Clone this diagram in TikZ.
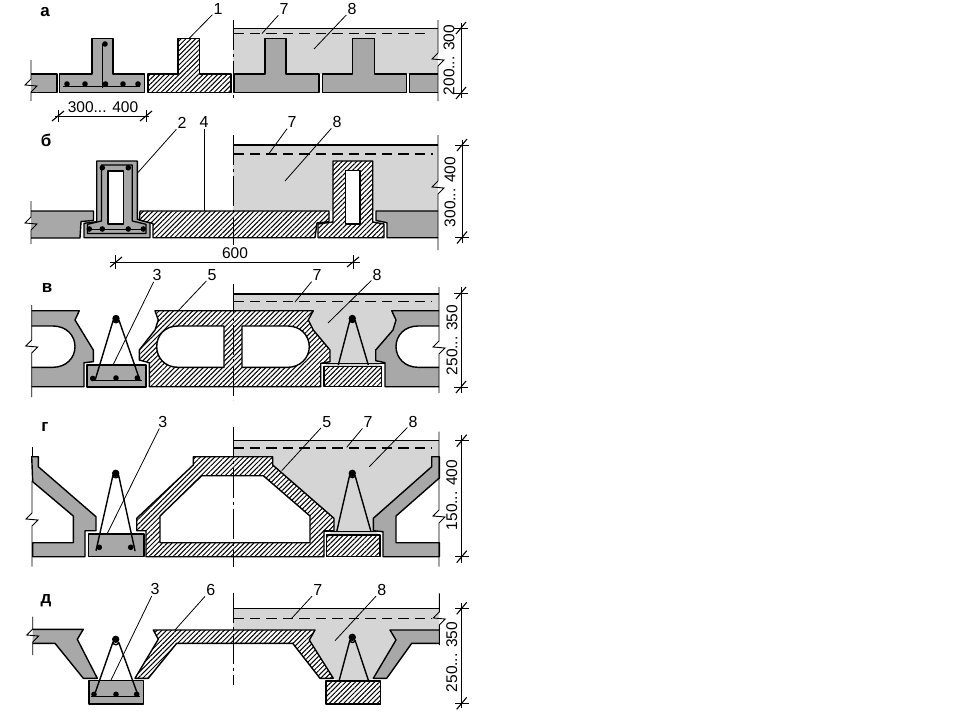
\documentclass[tikz,border=0pt]{standalone}
\usepackage{fontspec}
\setmainfont{Liberation Sans}
\usetikzlibrary{patterns.meta}
\definecolor{dk}{HTML}{A8A8A8}
\definecolor{lt}{HTML}{D5D5D5}
\tikzset{
 lab/.style={inner sep=1pt,font=\fontsize{16pt}{16pt}\selectfont},
 panelname/.style={inner sep=1pt,font=\fontsize{17pt}{17pt}\selectfont\bfseries},
 dimtext/.style={inner sep=0pt,font=\fontsize{15.5pt}{15pt}\selectfont},
 leader/.style={line width=.8pt},
 ol/.style={draw=black,line width=1.4pt,line join=round},
 dark/.style={ol,fill=dk},
 light/.style={fill=lt},
 topline/.style={line width=1.4pt},
 hatch/.style={ol,preaction={fill=white},pattern={Lines[angle=45,distance=3.4pt,line width=1pt]}},
 void/.style={ol,fill=white},
 dashline/.style={line width=1.3pt,dash pattern=on 10.5pt off 6pt},
 axisline/.style={line width=.9pt,dash pattern=on 30pt off 4pt on 3pt off 4pt},
 edge/.style={line width=.9pt},
 dimline/.style={line width=.8pt},
 truss/.style={line width=1.4pt,line join=round},
 bar/.style={fill=black,draw=none},
}
\newcommand{\rbar}[2]{\fill[bar] (#1,#2) circle[radius=2.8];}
\newcommand{\tbar}[2]{\fill[bar] (#1,#2) circle[radius=3.7];}
% vertical edge with a break mark
\newcommand{\vbrk}[4]{\draw[edge] (#1,#2)--(#1,#3-5)--(#1-6,#3+1)--(#1+6,#3+2)--(#1,#3+8)--(#1,#4);}
% vertical dimension
\newcommand{\vdimen}[5]{\draw[dimline] (#1,#2)--(#1,#5);
 \draw[dimline] (#1-7,#3)--(#1+7,#3); \draw[line width=1.1pt] (#1-5,#3+6)--(#1+5,#3-6);
 \draw[dimline] (#1-7,#4)--(#1+7,#4); \draw[line width=1.1pt] (#1-5,#4+6)--(#1+5,#4-6);}
\begin{document}
\begin{tikzpicture}[x=1pt,y=-1pt]
\useasboundingbox (0,0) rectangle (960,720);
\fill[white] (0,0) rectangle (960,720);

%% ---------- а ----------
\node[panelname] (na) at (45,12) {а};
\fill[light] (233,28.5) rectangle (438,74);
\draw[topline] (233,28.5)--(438,28.5);
\draw[dark] (31,74)--(57,74)--(57,92.5)--(31,92.5);
\draw[dark] (59.5,74)--(92,74)--(92,38.5)--(113,38.5)--(113,74)--(144.5,74)--(144.5,92.5)--(59.5,92.5)--cycle;
\draw[hatch] (148,74)--(178,74)--(178,38.5)--(199.5,38.5)--(199.5,74)--(231,74)--(231,92.5)--(148,92.5)--cycle;
\draw[dark] (234,74)--(265,74)--(265,38.5)--(286,38.5)--(286,74)--(319,74)--(319,92.5)--(234,92.5)--cycle;
\draw[dark] (322.5,74)--(352.5,74)--(352.5,38.5)--(374.5,38.5)--(374.5,74)--(406.5,74)--(406.5,92.5)--(322.5,92.5)--cycle;
\draw[dark] (438,74)--(409.5,74)--(409.5,92.5)--(438,92.5);
\draw[line width=.8pt] (63,86)--(140,86) (102,44)--(102,88);
\rbar{67}{84}\rbar{85}{84}\rbar{105.5}{84}\rbar{123}{84}\rbar{138}{84}\rbar{105}{44}
\draw[dashline] (233,33.5)--(430,33.5);
\draw[axisline] (233,20)--(233,100);
\vbrk{31}{60}{84}{101}
\vbrk{438}{20}{58}{101}
\vdimen{461}{23}{28}{93}{98}
\node[dimtext,rotate=90] (da) at (449,60) {200... 300};
\draw[dimline] (55,116)--(149,116);
\draw[dimline] (58,110)--(58,122); \draw[line width=1.1pt] (52,121)--(64,111);
\draw[dimline] (146,110)--(146,122); \draw[line width=1.1pt] (140,121)--(152,111);
\node[dimtext] (db) at (103,107) {300... 400};
\node[lab] (a1) at (218,9) {1}; \coordinate (a1e) at (189,38.5);
\node[lab] (a7) at (284,9) {7}; \coordinate (a7e) at (262,33.5);
\node[lab] (a8) at (352,9) {8}; \coordinate (a8e) at (314,49);
\draw[leader] (a1)--(a1e); \draw[leader] (a7)--(a7e); \draw[leader] (a8)--(a8e);

%% ---------- б ----------
\node[panelname] (nb) at (46,140) {б};
\fill[light] (233,145) rectangle (438,211);
\draw[topline] (233,145)--(438,145);
\draw[dark] (31,211)--(93.5,211)--(93.5,220.5)--(81,221.5)--(80,238)--(31,238);
\draw[dark] (96.7,161)--(137.3,161)--(137.3,219.3)--(150,222.7)--(150,237.7)--(84,237.7)--(84,223.3)--(96.7,221.7)--cycle;
\draw[line width=1.3pt,line join=round] (101.5,165)--(132.3,165)--(132.3,221)--(146,224.3)--(146,233.5)--(87.5,233.5)--(87.5,224.3)--(101.5,221)--cycle;
\draw[line width=.9pt] (87.5,229.5)--(146,229.5);
\draw[void] (108,171) rectangle (123.5,224);
\rbar{102.3}{167.7}\rbar{128.3}{167.7}\rbar{89.3}{229}\rbar{102.3}{229}\rbar{128.3}{229}\rbar{143.3}{229}
\draw[hatch] (140,211)--(329,211)--(329,221.7)--(317,223)--(315,237.7)--(153,237.7)--(153,223.5)--(139.5,220)--cycle;
\draw[hatch] (333,161)--(372.7,161)--(372.7,222)--(384,224)--(384,237.7)--(318,237.7)--(318,224)--(333,222)--cycle;
\draw[void] (345.5,170.5) rectangle (360,224);
\draw[dark] (438,211)--(376,211)--(376,220.5)--(387,222.7)--(387,237.7)--(438,237.7);
\draw[dashline] (233,154)--(433,154);
\draw[axisline] (233,135)--(233,245);
\vbrk{31}{201}{222}{244}
\vbrk{438}{135}{186}{250}
\vdimen{462}{140}{145}{237.5}{243}
\node[dimtext,rotate=90] (dc) at (450,192) {300... 400};
\draw[dimline] (110,262)--(360,262);
\draw[dimline] (115.7,255)--(115.7,269); \draw[line width=1.1pt] (110,267)--(122,257);
\draw[dimline] (353,255)--(353,269); \draw[line width=1.1pt] (347,267)--(359,257);
\node[dimtext] (dd) at (235,253) {600};
\node[lab] (b2) at (182,123) {2}; \coordinate (b2e) at (137.5,173);
\node[lab] (b4) at (204,122) {4}; \coordinate (b4e) at (204,211);
\node[lab] (b7) at (292,122) {7}; \coordinate (b7e) at (269,153.5);
\node[lab] (b8) at (337,122) {8}; \coordinate (b8e) at (285,181);
\draw[leader] (b2)--(b2e); \draw[leader] (b4)--(b4e); \draw[leader] (b7)--(b7e); \draw[leader] (b8)--(b8e);

%% ---------- в ----------
\node[panelname] (nv) at (47,288) {в};
\fill[light] (233,294)--(439,294)--(439,310.7)--(391.7,310.7)--(396,320)--(393,330)--(375.7,350)--(375.7,360.7)--(381,366)--(324,366)--(330,361.7)--(330,350)--(313.3,330)--(308.3,320)--(313.3,310.7)--(233,310.7)--cycle;
\draw[topline] (233,294)--(439,294);
\draw[dark] (31.7,310.7)--(79.3,310.7)--(75,320)--(93.3,350)--(93.3,361.7)--(84,362.7)--(84,386.7)--(31.7,386.7);
\fill[white] (31.7,326)--(53,326) .. controls (66,326) and (75,335) .. (75,346.7) .. controls (75,358) and (66,367.3) .. (53,367.3)--(31.7,367.3)--cycle;
\draw[ol] (31.7,326)--(53,326) .. controls (66,326) and (75,335) .. (75,346.7) .. controls (75,358) and (66,367.3) .. (53,367.3)--(31.7,367.3);
\draw[dark] (87,365) rectangle (146,387);
\draw[truss] (95,380.5)--(113.3,320) arc[start angle=180,end angle=0,radius=2.8] (118.9,320)--(140,380.5);
\draw[truss] (92,380.5)--(142,380.5);
\rbar{92.7}{378.5}\rbar{116}{378}\rbar{137.3}{378}\tbar{116}{318.5}
\draw[hatch] (155,310.7)--(313.3,310.7)--(308.3,320)--(313.3,330)--(330,350)--(330,361.7)--(320.7,363.3)--(320.7,386.7)--(149.3,386.7)--(149.3,362.7)--(139.3,360)--(139.3,350)--(155,330)--(158.3,320)--cycle;
\draw[void] (224,326)--(178,326) .. controls (165,326) and (156.7,335) .. (156.7,346.7) .. controls (156.7,358) and (165,367.3) .. (178,367.3)--(224,367.3)--cycle;
\draw[void] (242,326)--(288,326) .. controls (300,326) and (309.3,335) .. (309.3,346.7) .. controls (309.3,358) and (300,367.3) .. (288,367.3)--(242,367.3)--cycle;
\draw[hatch,line width=1.1pt] (324,366.5) rectangle (381.7,386.7);
\draw[line width=.9pt] (321,363)--(385,363);
\draw[dark] (439,310.7)--(391.7,310.7)--(396,320)--(393,330)--(375.7,350)--(375.7,360.7)--(385,362.7)--(385,386.7)--(439,386.7);
\fill[white] (439,326)--(418,326) .. controls (405,326) and (396,335) .. (396,346.7) .. controls (396,358) and (405,367.3) .. (418,367.3)--(439,367.3)--cycle;
\draw[ol] (439,326)--(418,326) .. controls (405,326) and (396,335) .. (396,346.7) .. controls (396,358) and (405,367.3) .. (418,367.3)--(439,367.3);
\draw[truss] (338.3,365)--(350,320) arc[start angle=180,end angle=0,radius=2.5] (355,320)--(368.3,365);
\tbar{352.3}{318.5}
\draw[dashline] (233,301.7)--(432,301.7);
\draw[axisline] (233,284)--(233,400);
\vbrk{31.7}{305}{345}{397}
\vbrk{439}{287}{346}{393}
\vdimen{461}{287}{293}{387}{393}
\node[dimtext,rotate=90] (de) at (452,340) {250... 350};
\node[lab] (c3) at (157,275) {3}; \coordinate (c3e) at (113,365);
\node[lab] (c5) at (212,275) {5}; \coordinate (c5e) at (178,311);
\node[lab] (c7) at (317,275) {7}; \coordinate (c7e) at (295,302);
\node[lab] (c8) at (377,275) {8}; \coordinate (c8e) at (328,323);
\draw[leader] (c3)--(c3e); \draw[leader] (c5)--(c5e); \draw[leader] (c7)--(c7e); \draw[leader] (c8)--(c8e);

%% ---------- г ----------
\node[panelname] (ng) at (45,427) {г};
\fill[light] (233,440.7)--(439,440.7)--(439,456.7)--(431.7,456.7)--(431.7,466.7)--(373.3,518.3)--(373.3,530.7)--(380,535)--(326.7,535)--(334,530.7)--(334,518.3)--(272.7,465)--(272.7,456.7)--(233,456.7)--cycle;
\draw[topline] (233,440.7)--(439,440.7);
\draw[dark] (31.7,456.7)--(38.3,456.7)--(38.3,466.7)--(96,516.7)--(96,530.7)--(85,530.7)--(85,556.7)--(32.7,556.7)--(32.7,542.7)--(73.3,542.7)--(73.3,516)--(32.7,481.7)--cycle;
\draw[dark] (88.3,534) rectangle (144,556.7);
\draw[truss] (96,550.7)--(113,475) arc[start angle=180,end angle=0,radius=2.8] (118.6,475)--(135,550.7)--cycle;
\rbar{99.3}{547.3}\rbar{130.7}{547.3}\tbar{115.7}{473.3}
\draw[hatch] (193.3,456.7)--(272.7,456.7)--(272.7,465)--(334,518.3)--(334,530.7)--(324,530.7)--(324,556.7)--(146,556.7)--(146,530.7)--(136.7,530.7)--(136.7,518.3)--(193.3,465)--cycle;
\draw[void] (201.7,475.7)--(263.3,475.7)--(310,516)--(310,542.7)--(160,542.7)--(160,516)--cycle;
\draw[hatch,line width=1.1pt] (326.7,535) rectangle (380,556.7);
\draw[line width=.9pt] (324,531.5)--(383,531.5);
\draw[dark] (439.3,456.7)--(431.7,456.7)--(431.7,466.7)--(373.3,518.3)--(373.3,530.7)--(383,531.7)--(383,556.7)--(439.3,556.7)--(439.3,542.7)--(396,542.7)--(396,516)--(439.3,478)--cycle;
\draw[truss] (336.7,531.7)--(349.7,475) arc[start angle=180,end angle=0,radius=2.6] (354.9,475)--(371,531.7);
\tbar{352.3}{473.3}
\draw[dashline] (233,448)--(432,448);
\draw[axisline] (233,426.7)--(233,566.7);
\draw[edge] (32,446.7)--(32,456.7);
\vbrk{32}{481}{518}{566.7}
\vbrk{439}{431.7}{515}{566.7}
\vdimen{461.7}{435}{440.7}{556.7}{563}
\node[dimtext,rotate=90] (df) at (451.7,495) {150... 400};
\node[lab] (d3) at (162.7,421.7) {3}; \coordinate (d3e) at (107,534);
\node[lab] (d5) at (326.7,421.7) {5}; \coordinate (d5e) at (281.7,470.7);
\node[lab] (d7) at (368,421.7) {7}; \coordinate (d7e) at (346.7,447.3);
\node[lab] (d8) at (413,421.7) {8}; \coordinate (d8e) at (369.3,466.7);
\draw[leader] (d3)--(d3e); \draw[leader] (d5)--(d5e); \draw[leader] (d7)--(d7e); \draw[leader] (d8)--(d8e);

%% ---------- д ----------
\node[panelname] (nd) at (46,601) {д};
\fill[light] (233,608.3)--(439.3,608.3)--(439.3,630)--(390,630)--(396,640)--(373.3,678.3)--(368,681)--(339,681)--(333.3,678.3)--(309.3,640)--(315,630)--(233,630)--cycle;
\draw[topline] (233,608.3)--(439.3,608.3);
\draw[dark] (32.7,629.3)--(83.3,629.3)--(77.3,639.3)--(97.3,678.3)--(83.3,678.3)--(55,643.3)--(32.7,643.3);
\draw[dark] (89,680.7) rectangle (143.3,704);
\draw[truss] (95,693.3)--(113,642) arc[start angle=180,end angle=0,radius=2.8] (118.6,642)--(137.3,693.3);
\draw[truss] (90.7,696.7)--(140,696.7);
\rbar{94}{694.3}\rbar{116}{694.3}\rbar{136.7}{694.3}\tbar{115.7}{639.3}
\draw[hatch] (153.3,630)--(315,630)--(309.3,640)--(333.3,678.3)--(320,678.3)--(292.7,643.3)--(176.7,643.3)--(148.3,678.3)--(135,678.3)--(158.3,639.3)--cycle;
\draw[hatch] (326,681) rectangle (380.7,704);
\draw[dark] (439.3,630)--(390,630)--(396,640)--(373.3,678.3)--(386.7,678.3)--(411.7,643.3)--(439.3,643.3);
\draw[truss] (339.3,680)--(350,640) arc[start angle=180,end angle=0,radius=2.5] (355,640)--(368.3,680);
\tbar{352.3}{637.3}
\draw[dashline] (233,618.3)--(432,618.3);
\draw[axisline] (233,592.7)--(233,685);
\vbrk{32.7}{616.7}{634}{655}
\vbrk{439.3}{593.3}{617}{645}
\vdimen{461.7}{603}{608.3}{703.3}{708}
\node[dimtext,rotate=90] (dg) at (451.7,657) {250... 350};
\node[lab] (e3) at (155,589.3) {3}; \coordinate (e3e) at (110.7,680.7);
\node[lab] (e6) at (210.7,590) {6}; \coordinate (e6e) at (175,630);
\node[lab] (e7) at (317.7,590) {7}; \coordinate (e7e) at (291.7,618.3);
\node[lab] (e8) at (381.7,590) {8}; \coordinate (e8e) at (335,640.7);
\draw[leader] (e3)--(e3e); \draw[leader] (e6)--(e6e); \draw[leader] (e7)--(e7e); \draw[leader] (e8)--(e8e);
\end{tikzpicture}
\end{document}
